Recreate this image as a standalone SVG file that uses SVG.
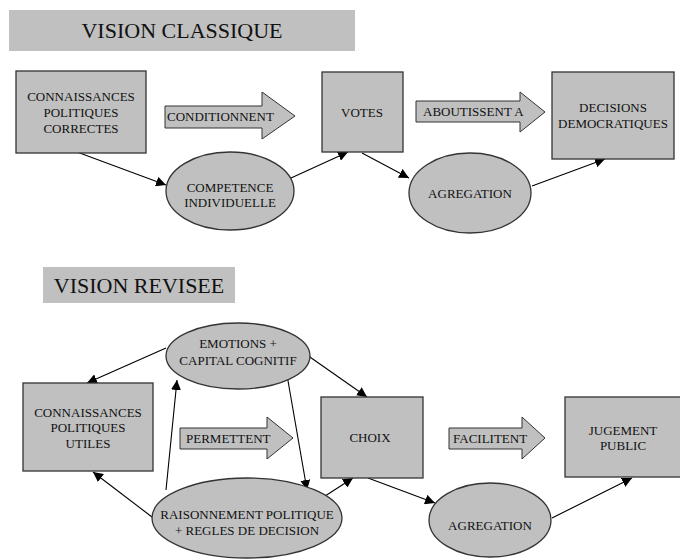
<svg xmlns="http://www.w3.org/2000/svg" width="680" height="560" viewBox="0 0 680 560" font-family="'Liberation Serif', 'DejaVu Serif', 'Times New Roman', serif">
<style>
.bg{fill:#ffffff}
.title{fill:#c0c0c0;stroke:none}
.node{fill:#c0c0c0;stroke:#333333;stroke-width:1.3}
.barrow{fill:#c0c0c0;stroke:#333333;stroke-width:1}
.edge{stroke:#000000;stroke-width:1.1;fill:none;marker-end:url(#ah)}
text{font-family:'Liberation Serif','DejaVu Serif','Times New Roman',serif;fill:#111111;text-anchor:middle}
.t{font-size:13px}
.h{font-size:22px}
.bt{font-size:13px;text-anchor:start}
</style>
<defs>
<marker id="ah" viewBox="0 0 10 10" refX="10" refY="5" markerWidth="10" markerHeight="10" markerUnits="userSpaceOnUse" orient="auto">
<path d="M0,0 L10,5 L0,10 z" fill="#000000"/>
</marker>
</defs>
<rect class="bg" x="0" y="0" width="680" height="560"/>

<g id="title1"><rect class="title" x="9" y="10" width="346" height="41"/><text class="h" x="182" y="38">VISION CLASSIQUE</text></g>
<g id="title2"><rect class="title" x="43" y="267" width="192" height="36"/><text class="h" x="139" y="293">VISION REVISEE</text></g>

<g id="edges">
<line class="edge" x1="77" y1="152" x2="166" y2="185"/>
<line class="edge" x1="291" y1="178" x2="348" y2="152"/>
<line class="edge" x1="362" y1="153" x2="409" y2="178"/>
<line class="edge" x1="532" y1="186" x2="605" y2="159"/>

<line class="edge" x1="166" y1="348" x2="87" y2="383"/>
<line class="edge" x1="166" y1="490" x2="177" y2="380"/>
<line class="edge" x1="287" y1="375" x2="307" y2="490"/>
<line class="edge" x1="152" y1="517" x2="93" y2="472"/>
<line class="edge" x1="307" y1="355" x2="367" y2="397"/>
<line class="edge" x1="322" y1="498" x2="353" y2="478"/>
<line class="edge" x1="368" y1="478" x2="435" y2="503"/>
<line class="edge" x1="552" y1="518" x2="632" y2="478"/>
</g>

<g id="connaissances1"><rect class="node" x="16" y="71" width="130" height="82"/>
<text class="t" x="81" y="101">CONNAISSANCES</text><text class="t" x="81" y="117">POLITIQUES</text><text class="t" x="81" y="133">CORRECTES</text></g>

<g id="conditionnent"><path class="barrow" d="M165,106 L262,106 L262,92 L295,116 L262,139 L262,128 L165,128 Z"/><text class="bt" x="167" y="121">CONDITIONNENT</text></g>

<g id="votes"><rect class="node" x="322" y="72" width="81" height="80"/><text class="t" x="362" y="117">VOTES</text></g>

<g id="aboutissent"><path class="barrow" d="M416,101 L520,101 L520,92 L545,112 L520,132 L520,122 L416,122 Z"/><text class="bt" x="423" y="116">ABOUTISSENT A</text></g>

<g id="decisions"><rect class="node" x="552" y="72" width="122" height="87"/>
<text class="t" x="613" y="112">DECISIONS</text><text class="t" x="613" y="128">DEMOCRATIQUES</text></g>

<g id="competence"><ellipse class="node" cx="230" cy="191" rx="64" ry="39"/>
<text class="t" x="230" y="192">COMPETENCE</text><text class="t" x="230" y="207">INDIVIDUELLE</text></g>

<g id="agregation1"><ellipse class="node" cx="470" cy="193" rx="61" ry="40"/><text class="t" x="470" y="198">AGREGATION</text></g>

<g id="emotions"><ellipse class="node" cx="238" cy="356" rx="72" ry="33"/>
<text class="t" x="238" y="348">EMOTIONS +</text><text class="t" x="238" y="365">CAPITAL COGNITIF</text></g>

<g id="connaissances2"><rect class="node" x="23" y="383" width="130" height="88"/>
<text class="t" x="88" y="417">CONNAISSANCES</text><text class="t" x="88" y="432">POLITIQUES</text><text class="t" x="88" y="448">UTILES</text></g>

<g id="permettent"><path class="barrow" d="M180,428 L267,428 L267,417 L293,438 L267,459 L267,449 L180,449 Z"/><text class="bt" x="186" y="443">PERMETTENT</text></g>

<g id="choix"><rect class="node" x="321" y="397" width="102" height="81"/><text class="t" x="370" y="442">CHOIX</text></g>

<g id="facilitent"><path class="barrow" d="M449,428 L522,428 L522,417 L545,438 L522,459 L522,449 L449,449 Z"/><text class="bt" x="453" y="443">FACILITENT</text></g>

<g id="jugement"><rect class="node" x="565" y="397" width="116" height="80"/>
<text class="t" x="623" y="435">JUGEMENT</text><text class="t" x="623" y="450">PUBLIC</text></g>

<g id="raisonnement"><ellipse class="node" cx="247" cy="518" rx="95" ry="40"/>
<text class="t" x="247" y="519">RAISONNEMENT POLITIQUE</text><text class="t" x="247" y="535">+ REGLES DE DECISION</text></g>

<g id="agregation2"><ellipse class="node" cx="490" cy="520" rx="61" ry="37"/><text class="t" x="490" y="530">AGREGATION</text></g>
</svg>
